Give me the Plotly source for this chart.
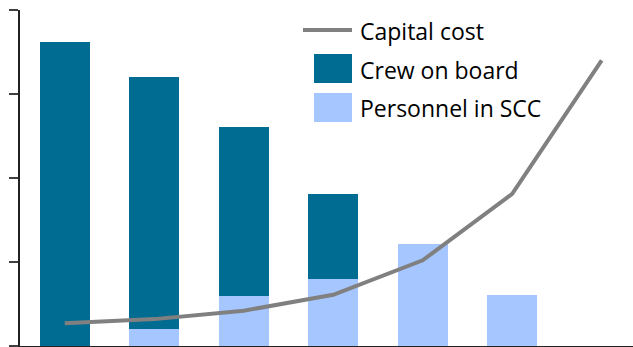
import plotly.graph_objects as go

categories = ["A", "B", "C", "D", "E", "F", "G"]
crew_on_board = [3.62, 3.00, 2.01, 1.01, 0, 0, 0]
personnel_scc = [0, 0.20, 0.60, 0.80, 1.21, 0.61, 0]
capital_cost = [0.27, 0.32, 0.42, 0.61, 1.02, 1.81, 3.40]
series_names = ["Capital cost", "Crew on board", "Personnel in SCC"]

C_DARK = "#006C91"
C_LIGHT = "#A6C6FF"
C_LINE = "#808080"

W, H = 633, 347
L, R, T, B = 20, 0, 10, 1
PW, PH = W - L - R, H - T - B

def px(x):
    return (x - L) / PW

def py(y):
    return (H - B - y) / PH

fig = go.Figure()
fig.add_bar(x=categories, y=personnel_scc, name=series_names[2],
            marker=dict(color=C_LIGHT, line=dict(width=0)))
fig.add_bar(x=categories, y=crew_on_board, name=series_names[1],
            marker=dict(color=C_DARK, line=dict(width=0)))
fig.add_scatter(x=categories, y=capital_cost, name=series_names[0], mode="lines",
                line=dict(color=C_LINE, width=4))

# manual legend
font = dict(family="Open Sans, Noto Sans, sans-serif", size=23, color="#000000")
shapes = [
    dict(type="line", xref="paper", yref="paper", x0=px(303), x1=px(352),
         y0=py(30), y1=py(30), line=dict(color=C_LINE, width=4)),
    dict(type="rect", xref="paper", yref="paper", x0=px(314), x1=px(352),
         y0=py(83), y1=py(54), line=dict(width=0), fillcolor=C_DARK),
    dict(type="rect", xref="paper", yref="paper", x0=px(314), x1=px(352),
         y0=py(122), y1=py(93), line=dict(width=0), fillcolor=C_LIGHT),
]
annotations = []
for name, yc in zip(series_names, [31, 70, 108]):
    annotations.append(dict(text=name, xref="paper", yref="paper", x=px(358), y=py(yc),
                            xanchor="left", yanchor="middle", showarrow=False, font=font))

fig.update_layout(
    width=W, height=H,
    margin=dict(l=L, r=R, t=T, b=B, pad=0),
    barmode="stack", bargap=0.44,
    plot_bgcolor="white", paper_bgcolor="white",
    showlegend=False, hovermode=False,
    shapes=shapes, annotations=annotations,
    xaxis=dict(range=[-0.5, 6.35], showticklabels=False, ticks="", showgrid=False,
               zeroline=False, showline=True, linecolor="#222222", linewidth=2),
    yaxis=dict(range=[0, 4], tickvals=[0, 1, 2, 3, 4], showticklabels=False,
               ticks="outside", ticklen=9, tickwidth=2, tickcolor="#404040",
               showgrid=False, zeroline=False, showline=True,
               linecolor="#222222", linewidth=2),
)

fig.write_html("out.html", config={"displayModeBar": False},
               post_script="document.body.style.margin='0px';document.body.style.overflow='hidden';")
